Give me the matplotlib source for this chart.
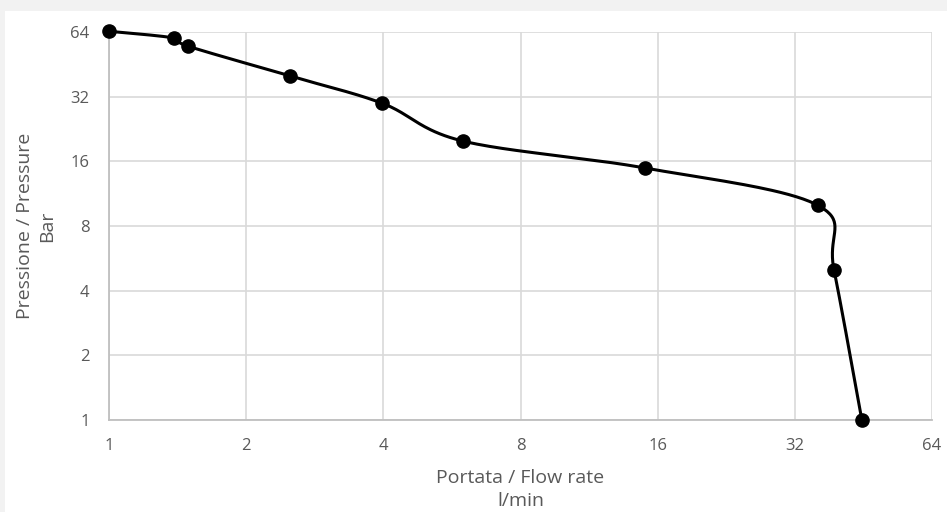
import numpy as np
import matplotlib
matplotlib.use("Agg")
import matplotlib.pyplot as plt
from matplotlib.patches import Rectangle
from matplotlib.ticker import FixedLocator, FixedFormatter, NullLocator

flow = [1.0, 1.39, 1.49, 2.49, 3.98, 5.97, 15.0, 35.9, 39.0, 44.9]
pressure = [64.5, 60.0, 55.0, 40.0, 29.8, 19.9, 14.9, 10.0, 5.0, 1.0]
ticks = [1, 2, 4, 8, 16, 32, 64]
tick_labels = ["1", "2", "4", "8", "16", "32", "64"]

plt.rcParams['font.family'] = ['Open Sans', 'DejaVu Sans']

fig = plt.figure(figsize=(9.47, 5.12), dpi=100)
fig.patch.set_facecolor("white")
fig.patches.append(Rectangle((0, 1 - 11/512), 1, 11/512, transform=fig.transFigure,
                             facecolor="#f2f2f2", edgecolor="none", zorder=0))
fig.patches.append(Rectangle((0, 0), 5/947, 1, transform=fig.transFigure,
                             facecolor="#f2f2f2", edgecolor="none", zorder=0))

ax = fig.add_axes([109/947, (512-420)/512, (932-109)/947, (420-32)/512])
ax.set_xscale("log", base=2)
ax.set_yscale("log", base=2)
ax.set_xlim(1, 64)
ax.set_ylim(1, 64)

# Catmull-Rom smoothing in log space (Excel-like smoothed line)
lx = np.log2(flow)
ly = np.log2(pressure)
P = np.column_stack([lx, ly])
n = len(P)
xs, ys = [], []
t = np.linspace(0, 1, 40)
for i in range(n - 1):
    p0 = P[i - 1] if i > 0 else P[i]
    p1 = P[i]
    p2 = P[i + 1]
    p3 = P[i + 2] if i + 2 < n else P[i + 1]
    c1 = p1 + (p2 - p0) / 6
    c2 = p2 - (p3 - p1) / 6
    seg = ((1 - t)**3)[:, None] * p1 + (3 * (1 - t)**2 * t)[:, None] * c1 + \
          (3 * (1 - t) * t**2)[:, None] * c2 + (t**3)[:, None] * p2
    xs.extend(seg[:, 0]); ys.extend(seg[:, 1])
xs = 2 ** np.array(xs); ys = 2 ** np.array(ys)

ax.plot(xs, ys, color="black", lw=2.2, zorder=3, clip_on=False, solid_capstyle="round")
ax.plot(flow, pressure, "o", color="black", ms=9.5, zorder=4, clip_on=False)

ax.xaxis.set_major_locator(FixedLocator(ticks))
ax.xaxis.set_major_formatter(FixedFormatter(tick_labels))
ax.yaxis.set_major_locator(FixedLocator(ticks))
ax.yaxis.set_major_formatter(FixedFormatter(tick_labels))
ax.xaxis.set_minor_locator(NullLocator())
ax.yaxis.set_minor_locator(NullLocator())

ax.grid(True, color="#d9d9d9", lw=1.2)
ax.set_axisbelow(True)
for s in ["top", "right"]:
    ax.spines[s].set_visible(False)
for s in ["left", "bottom"]:
    ax.spines[s].set_color("#bfbfbf")
    ax.spines[s].set_linewidth(1.3)

ax.tick_params(axis="both", length=0, labelsize=12, labelcolor="#595959")
ax.tick_params(axis="x", pad=13)
ax.tick_params(axis="y", pad=14)

ax.set_xlabel("Portata / Flow rate\nl/min", fontsize=14, color="#595959", labelpad=11, linespacing=1.35)
ax.set_ylabel("Pressione / Pressure\nBar", fontsize=14, color="#595959", labelpad=10, linespacing=1.3)

fig.savefig("out.png", dpi=100)
